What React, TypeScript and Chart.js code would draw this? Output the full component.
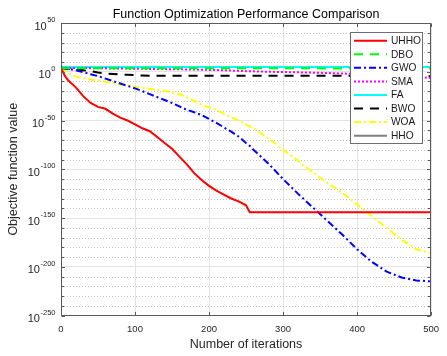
import React, { useEffect, useRef } from 'react';
import { Chart, registerables } from 'chart.js';

Chart.register(...registerables);

// Iteration numbers at which the curves are sampled
const ITERATIONS = [0, 5, 10, 20, 30, 40, 50, 60, 70, 80, 90, 100, 110, 120, 130, 140, 150, 160, 170, 180, 190, 200, 210, 220, 230, 240, 250, 255, 260, 280, 300, 320, 340, 360, 380, 400, 420, 440, 460, 480, 500];

// Series values as log10(objective function value)
const UHHO = [4, -4, -9, -16, -25, -32, -36, -38, -43, -47, -50, -54, -58, -61, -67, -73, -79, -87, -95, -104, -111, -117, -122, -126, -130, -133, -137, -144, -144, -144, -144, -144, -144, -144, -144, -144, -144, -144, -144, -144, -144];
const DBO = [4, 3.8, 3.7, 3.6, 3.6, 3.5, 3.5, 3.5, 3.5, 3.5, 3.5, 3.5, 3.5, 3.5, 3.5, 3.5, 3.5, 3.5, 3.5, 3.5, 3.5, 3.5, 3.5, 3.5, 3.5, 3.5, 3.5, 3.5, 3.5, 3.5, 3.5, 3.5, 3.5, 3.4, 3.4, 3.4, 3.4, 3.4, 3.3, 3.3, 3.3];
const GWO = [4, 3.5, 3, 1.5, -0.5, -2.5, -4.5, -7, -9.5, -12, -14.5, -17, -20, -23, -26, -29, -32, -35.5, -39, -41.5, -44.5, -48.5, -52.5, -57, -61.5, -66.5, -73, -76, -80, -94, -110, -125, -139, -153, -167, -182, -195, -205, -211, -214, -215];
const SMA = [4, 4, 4, 3.9, 3.8, 3.7, 3.6, 3.5, 3.4, 3.3, 3.2, 3.1, 3, 2.9, 2.8, 2.7, 2.6, 2.5, 2.4, 2.3, 2.1, 1.9, 1.7, 1.5, 1.2, 0.9, 0.6, 0.5, 0.4, 0, -0.3, -0.6, -0.9, -1.3, -1.8, -2.3, -2.8, -3.3, -4, -5, -6.5];
const FA = [5, 5, 5, 5, 5, 5, 5, 5, 5, 5, 5, 5, 5, 5, 5, 5, 5, 5, 5, 5, 5, 5, 5, 5, 5, 5, 5, 5, 5, 5, 5, 5, 5, 5, 5, 5, 5, 5, 5, 5, 5];
const BWO = [4, 3.3, 3, 2.5, 1.5, 0.5, -0.7, -1.7, -2.3, -2.8, -3.2, -3.5, -3.8, -4, -4, -4, -4, -4, -4, -4, -4, -4, -4, -4, -4, -4, -4, -4, -4, -4, -4, -4, -4, -4, -4, -4, -4, -4, -4.2, -4.5, -4.5];
const WOA = [4, 1, -1.5, -5, -6.5, -8, -9, -10, -11.5, -13, -14, -15.5, -16.5, -17.5, -18.5, -19.5, -21, -23, -26, -30, -34, -36.5, -39, -43, -46.5, -50, -54, -56, -58, -68, -80, -91, -103, -114, -124, -136, -148, -160, -172, -182, -186];
// HHO reached exactly 0, which cannot be shown on the logarithmic axis
const HHO: number[] = [];

const SERIES_LABELS = ['UHHO', 'DBO', 'GWO', 'SMA', 'FA', 'BWO', 'WOA', 'HHO'];
const SERIES_VALUES = [UHHO, DBO, GWO, SMA, FA, BWO, WOA, HHO];
const SERIES_COLORS = ['#ff0000', '#00ff00', '#0000ff', '#ff00ff', '#00ffff', '#000000', '#ffff00', '#808080'];
const SERIES_DASHES = [[], [9, 7], [7, 3, 2, 3], [2, 2], [], [9, 7], [7, 3, 2, 3], []];

const X_TICKS = [0, 100, 200, 300, 400, 500];
const Y_EXPONENTS = [-250, -200, -150, -100, -50, 0, 50];
const Y_MINOR_STEP = 10;

const TITLE = 'Function Optimization Performance Comparison';
const X_TITLE = 'Number of iterations';
const Y_TITLE = 'Objective function value';

const FONT = '"Liberation Sans", Arial, Helvetica, sans-serif';

const matlabPlugin = {
  id: 'matlabAxes',
  beforeDatasetsDraw(chart: any) {
    const { ctx, chartArea, scales } = chart;
    const { left, right } = chartArea;
    const y = scales.y;
    ctx.save();
    ctx.strokeStyle = '#c4c4c4';
    ctx.lineWidth = 1;
    ctx.setLineDash([1, 2]);
    const yMin = Y_EXPONENTS[0];
    const yMax = Y_EXPONENTS[Y_EXPONENTS.length - 1];
    for (let v = yMin; v <= yMax; v += Y_MINOR_STEP) {
      if (Y_EXPONENTS.includes(v)) continue;
      const py = Math.round(y.getPixelForValue(v)) + 0.5;
      ctx.beginPath();
      ctx.moveTo(left, py);
      ctx.lineTo(right, py);
      ctx.stroke();
    }
    ctx.restore();
  },
  afterDatasetsDraw(chart: any) {
    const { ctx, chartArea, scales } = chart;
    const { left, right, top, bottom } = chartArea;
    const x = scales.x;
    const y = scales.y;
    ctx.save();
    ctx.strokeStyle = '#5a5a5a';
    ctx.lineWidth = 1;
    ctx.setLineDash([]);
    const L = Math.round(left) + 0.5;
    const R = Math.round(right) - 0.5;
    const T = Math.round(top) + 0.5;
    const B = Math.round(bottom) - 0.5;
    ctx.strokeRect(L, T, R - L, B - T);
    ctx.beginPath();
    const yMin = Y_EXPONENTS[0];
    const yMax = Y_EXPONENTS[Y_EXPONENTS.length - 1];
    for (let v = yMin; v <= yMax; v += Y_MINOR_STEP) {
      const len = Y_EXPONENTS.includes(v) ? 3.5 : 2.5;
      const py = Math.round(y.getPixelForValue(v)) + 0.5;
      ctx.moveTo(L, py); ctx.lineTo(L + len, py);
      ctx.moveTo(R, py); ctx.lineTo(R - len, py);
    }
    X_TICKS.forEach((t) => {
      const px = Math.round(x.getPixelForValue(t)) + 0.5;
      ctx.moveTo(px, B); ctx.lineTo(px, B - 3.5);
      ctx.moveTo(px, T); ctx.lineTo(px, T + 3.5);
    });
    ctx.stroke();

    // y tick labels: 10 with superscript exponent
    ctx.fillStyle = '#262626';
    ctx.textBaseline = 'middle';
    const rightEdge = Math.round(left) - 5.5;
    Y_EXPONENTS.forEach((v) => {
      const py = y.getPixelForValue(v);
      const expText = String(v);
      ctx.font = `7.5px ${FONT}`;
      const ew = ctx.measureText(expText).width;
      ctx.textAlign = 'left';
      ctx.fillText(expText, rightEdge - ew, py - 3);
      ctx.font = `11px ${FONT}`;
      ctx.textAlign = 'right';
      ctx.fillText('10', rightEdge - ew - 0.5, py + 3.5);
    });
    ctx.restore();
  },
  afterDraw(chart: any) {
    const { ctx } = chart;
    const datasets = chart.data.datasets;
    const boxL = 350.5, boxT = 32.5, boxW = 72, boxH = 111;
    ctx.save();
    ctx.fillStyle = '#ffffff';
    ctx.fillRect(boxL, boxT, boxW, boxH);
    ctx.strokeStyle = '#6e6e6e';
    ctx.lineWidth = 1;
    ctx.setLineDash([]);
    ctx.strokeRect(boxL, boxT, boxW, boxH);
    const rowH = 13.57;
    ctx.font = `10.2px ${FONT}`;
    ctx.textBaseline = 'middle';
    ctx.textAlign = 'left';
    datasets.forEach((ds: any, i: number) => {
      const cy = boxT + 8.2 + i * rowH;
      ctx.strokeStyle = ds.borderColor;
      ctx.lineWidth = 2;
      ctx.setLineDash(ds.borderDash || []);
      ctx.beginPath();
      ctx.moveTo(354, cy);
      ctx.lineTo(387, cy);
      ctx.stroke();
      ctx.fillStyle = '#1a1a1a';
      ctx.fillText(ds.label, 391, cy + 0.5);
    });
    ctx.restore();
  },
};

export default function App() {
  const ref = useRef<HTMLCanvasElement | null>(null);

  useEffect(() => {
    if (!ref.current) return;
    const datasets = SERIES_LABELS.map((label, i) => ({
      label,
      data: SERIES_VALUES[i].map((v, j) => ({ x: ITERATIONS[j], y: v })),
      borderColor: SERIES_COLORS[i],
      backgroundColor: SERIES_COLORS[i],
      borderDash: SERIES_DASHES[i],
      borderWidth: 2,
      pointRadius: 0,
      tension: 0,
      fill: false,
    }));
    const chart = new Chart(ref.current, {
      type: 'line',
      data: { datasets },
      options: {
        responsive: false,
        animation: false,
        devicePixelRatio: 1,
        layout: { padding: { left: 0, right: 15, top: 0, bottom: 0 } },
        plugins: {
          legend: { display: false },
          tooltip: { enabled: false },
          title: {
            display: true,
            fullSize: false,
            text: TITLE,
            color: '#000000',
            font: { family: FONT, size: 12.5, weight: 'normal', lineHeight: 1.2 },
            padding: { top: 7, bottom: 1 },
          },
        },
        scales: {
          x: {
            type: 'linear',
            min: 0,
            max: 500,
            afterFit: (s: any) => { s.height = 40.5; },
            afterBuildTicks: (s: any) => { s.ticks = X_TICKS.map((v) => ({ value: v })); },
            ticks: {
              color: '#262626',
              font: { family: FONT, size: 9.5 },
              padding: 8,
              maxRotation: 0,
              autoSkip: false,
            },
            grid: { color: '#e3e3e3', drawTicks: false, lineWidth: 1 },
            border: { display: false },
            title: {
              display: true,
              text: X_TITLE,
              color: '#262626',
              font: { family: FONT, size: 12.5, lineHeight: 1.2 },
              padding: { top: 0, bottom: 3.5 },
            },
          },
          y: {
            type: 'linear',
            min: Y_EXPONENTS[0],
            max: Y_EXPONENTS[Y_EXPONENTS.length - 1],
            afterFit: (s: any) => { s.width = 61; },
            afterBuildTicks: (s: any) => { s.ticks = Y_EXPONENTS.map((v) => ({ value: v })); },
            ticks: {
              display: false,
              callback: (v: any) => '10^' + String(v),
            },
            grid: { color: '#e3e3e3', drawTicks: false, lineWidth: 1 },
            border: { display: false },
            title: {
              display: true,
              text: Y_TITLE,
              color: '#262626',
              font: { family: FONT, size: 12.5, lineHeight: 1.2 },
              padding: { top: 6.5, bottom: 0 },
            },
          },
        },
      },
      plugins: [matlabPlugin],
    });
    return () => chart.destroy();
  }, []);

  return (
    <div style={{ position: 'absolute', left: 0, top: 0, width: 447, height: 356, background: '#ffffff' }}>
      <canvas ref={ref} width={447} height={356} style={{ width: 447, height: 356, display: 'block' }} />
    </div>
  );
}
